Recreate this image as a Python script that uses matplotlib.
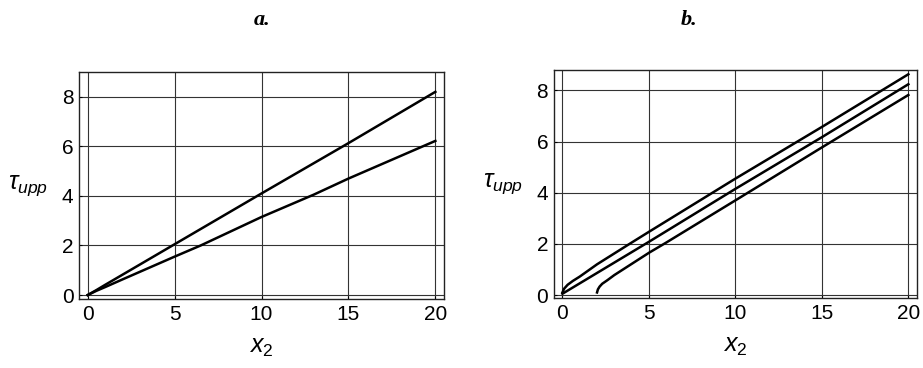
import matplotlib.pyplot as plt

plt.rcParams['font.family'] = ['Liberation Sans', 'DejaVu Sans']
plt.rcParams['mathtext.fontset'] = 'custom'
plt.rcParams['mathtext.rm'] = 'Liberation Sans'
plt.rcParams['mathtext.it'] = 'Liberation Sans:italic'

# panel a: two curves
a_x_upper = [0, 0.5, 1, 2, 5, 10, 15, 20]
a_y_upper = [0, 0.2, 0.41, 0.82, 2.05, 4.1, 6.13, 8.2]
a_x_lower = [0, 0.5, 1, 2, 5, 6.5, 10, 13, 15, 20]
a_y_lower = [0, 0.17, 0.32, 0.63, 1.55, 2.0, 3.15, 4.05, 4.7, 6.22]

# panel b: three curves
b_x_top = [0, 0.1, 0.3, 0.6, 1, 2, 4, 5, 10, 15, 20]
b_y_top = [0.1, 0.25, 0.4, 0.55, 0.72, 1.2, 2.05, 2.47, 4.55, 6.57, 8.63]
b_x_mid = [0, 5, 10, 15, 20]
b_y_mid = [0.05, 2.08, 4.15, 6.17, 8.24]
b_x_bot = [2.0, 2.05, 2.15, 2.3, 2.6, 3, 5, 6, 10, 15, 20]
b_y_bot = [0.1, 0.22, 0.33, 0.44, 0.58, 0.78, 1.65, 2.05, 3.7, 5.77, 7.82]

xticks = [0, 5, 10, 15, 20]
yticks = [0, 2, 4, 6, 8]

fig = plt.figure(figsize=(9.23, 3.68), dpi=100)
ax_a = fig.add_axes([0.0856, 0.1875, 0.3955, 0.6168])
ax_b = fig.add_axes([0.600, 0.190, 0.3935, 0.620])


def style(ax, ylim):
    ax.set_xlim(-0.5, 20.5)
    ax.set_ylim(*ylim)
    ax.set_xticks(xticks)
    ax.set_yticks(yticks)
    ax.grid(True, color='#333333', linewidth=0.8)
    ax.tick_params(length=2, width=0.8, labelsize=15, direction='in', pad=4)
    for s in ax.spines.values():
        s.set_linewidth(1.0)
        s.set_color('#222222')
    ax.set_xlabel(r'$x_2$', fontsize=18, labelpad=8)
    ax.set_ylabel(r'$\tau_{upp}$', fontsize=18, rotation=0, labelpad=24, va='center')


ax_a.plot(a_x_upper, a_y_upper, color='black', linewidth=1.8)
ax_a.plot(a_x_lower, a_y_lower, color='black', linewidth=1.8)
style(ax_a, (-0.16, 9.0))

ax_b.plot(b_x_top, b_y_top, color='black', linewidth=1.8)
ax_b.plot(b_x_mid, b_y_mid, color='black', linewidth=1.8)
ax_b.plot(b_x_bot, b_y_bot, color='black', linewidth=1.8)
style(ax_b, (-0.12, 8.8))

fig.text(0.284, 0.945, 'a.', fontsize=16, fontweight='bold', fontstyle='italic',
         family='Liberation Serif', ha='center', va='center')
fig.text(0.747, 0.945, 'b.', fontsize=16, fontweight='bold', fontstyle='italic',
         family='Liberation Serif', ha='center', va='center')

fig.savefig('out.png', dpi=100)
